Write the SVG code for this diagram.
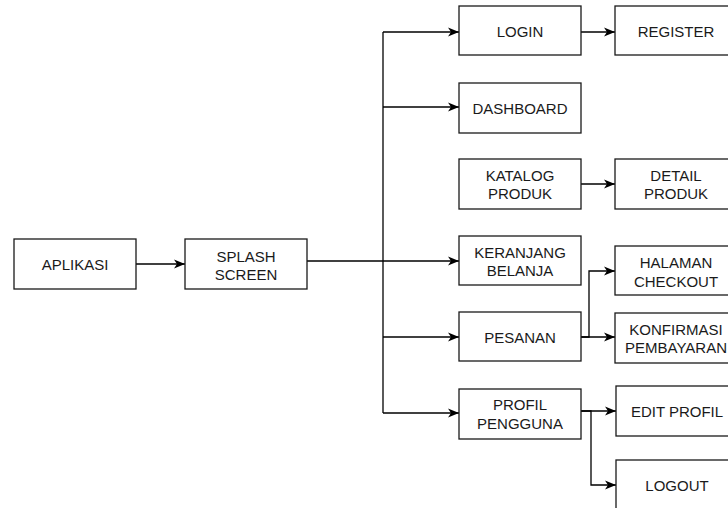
<svg xmlns="http://www.w3.org/2000/svg" width="728" height="508" viewBox="0 0 728 508">
<style>
.box{fill:#fff;stroke:#1a1a1a;stroke-width:1.3}
.t{font-family:"Liberation Sans",Arial,sans-serif;font-size:15px;fill:#1a1a1a;text-anchor:middle;dominant-baseline:central}
.c{fill:none;stroke:#000;stroke-width:1.3}
</style>
<defs>
<marker id="ah" markerUnits="userSpaceOnUse" markerWidth="12" markerHeight="10" refX="11" refY="5" orient="auto">
<path d="M0,0.5 L11,5 L0,9.5 L3,5 Z" fill="#000"/>
</marker>
</defs>
<rect width="728" height="508" fill="#fff"/>
<g id="connectors">
<path class="c" d="M136,264 H185" marker-end="url(#ah)"/>
<path class="c" d="M307,261 H459" marker-end="url(#ah)"/>
<path class="c" d="M383,32 V413"/>
<path class="c" d="M383,32 H459" marker-end="url(#ah)"/>
<path class="c" d="M383,107 H459" marker-end="url(#ah)"/>
<path class="c" d="M383,337 H459" marker-end="url(#ah)"/>
<path class="c" d="M383,413 H459" marker-end="url(#ah)"/>
<path class="c" d="M581,32 H615" marker-end="url(#ah)"/>
<path class="c" d="M581,184 H615" marker-end="url(#ah)"/>
<path class="c" d="M581,337 H589 V271 H615" marker-end="url(#ah)"/>
<path class="c" d="M581,337 H615" marker-end="url(#ah)"/>
<path class="c" d="M581,411 H616" marker-end="url(#ah)"/>
<path class="c" d="M581,411 H591 V485 H616" marker-end="url(#ah)"/>
</g>
<g id="aplikasi"><rect class="box" x="14" y="239" width="122" height="50"/><text class="t" x="75" y="264">APLIKASI</text></g>
<g id="splash"><rect class="box" x="185" y="239" width="122" height="50"/><text class="t" x="246" y="256">SPLASH</text><text class="t" x="246" y="274">SCREEN</text></g>
<g id="login"><rect class="box" x="459" y="6" width="122" height="49"/><text class="t" x="520" y="31">LOGIN</text></g>
<g id="register"><rect class="box" x="615" y="6" width="122" height="49"/><text class="t" x="676" y="31">REGISTER</text></g>
<g id="dashboard"><rect class="box" x="459" y="83" width="122" height="50"/><text class="t" x="520" y="108">DASHBOARD</text></g>
<g id="katalog"><rect class="box" x="459" y="159" width="122" height="50"/><text class="t" x="520" y="175">KATALOG</text><text class="t" x="520" y="193">PRODUK</text></g>
<g id="detail"><rect class="box" x="615" y="159" width="122" height="50"/><text class="t" x="676" y="175">DETAIL</text><text class="t" x="676" y="193">PRODUK</text></g>
<g id="keranjang"><rect class="box" x="459" y="236" width="122" height="49"/><text class="t" x="520" y="252">KERANJANG</text><text class="t" x="520" y="270">BELANJA</text></g>
<g id="halaman"><rect class="box" x="615" y="246" width="122" height="49"/><text class="t" x="676" y="262">HALAMAN</text><text class="t" x="676" y="281">CHECKOUT</text></g>
<g id="pesanan"><rect class="box" x="459" y="312" width="122" height="49"/><text class="t" x="520" y="337">PESANAN</text></g>
<g id="konfirmasi"><rect class="box" x="615" y="313" width="122" height="50"/><text class="t" x="676" y="329">KONFIRMASI</text><text class="t" x="676" y="347">PEMBAYARAN</text></g>
<g id="profil"><rect class="box" x="459" y="389" width="122" height="50"/><text class="t" x="520" y="404">PROFIL</text><text class="t" x="520" y="423">PENGGUNA</text></g>
<g id="editprofil"><rect class="box" x="616" y="386" width="122" height="50"/><text class="t" x="677" y="411">EDIT PROFIL</text></g>
<g id="logout"><rect class="box" x="616" y="460" width="122" height="50"/><text class="t" x="677" y="485">LOGOUT</text></g>
</svg>
